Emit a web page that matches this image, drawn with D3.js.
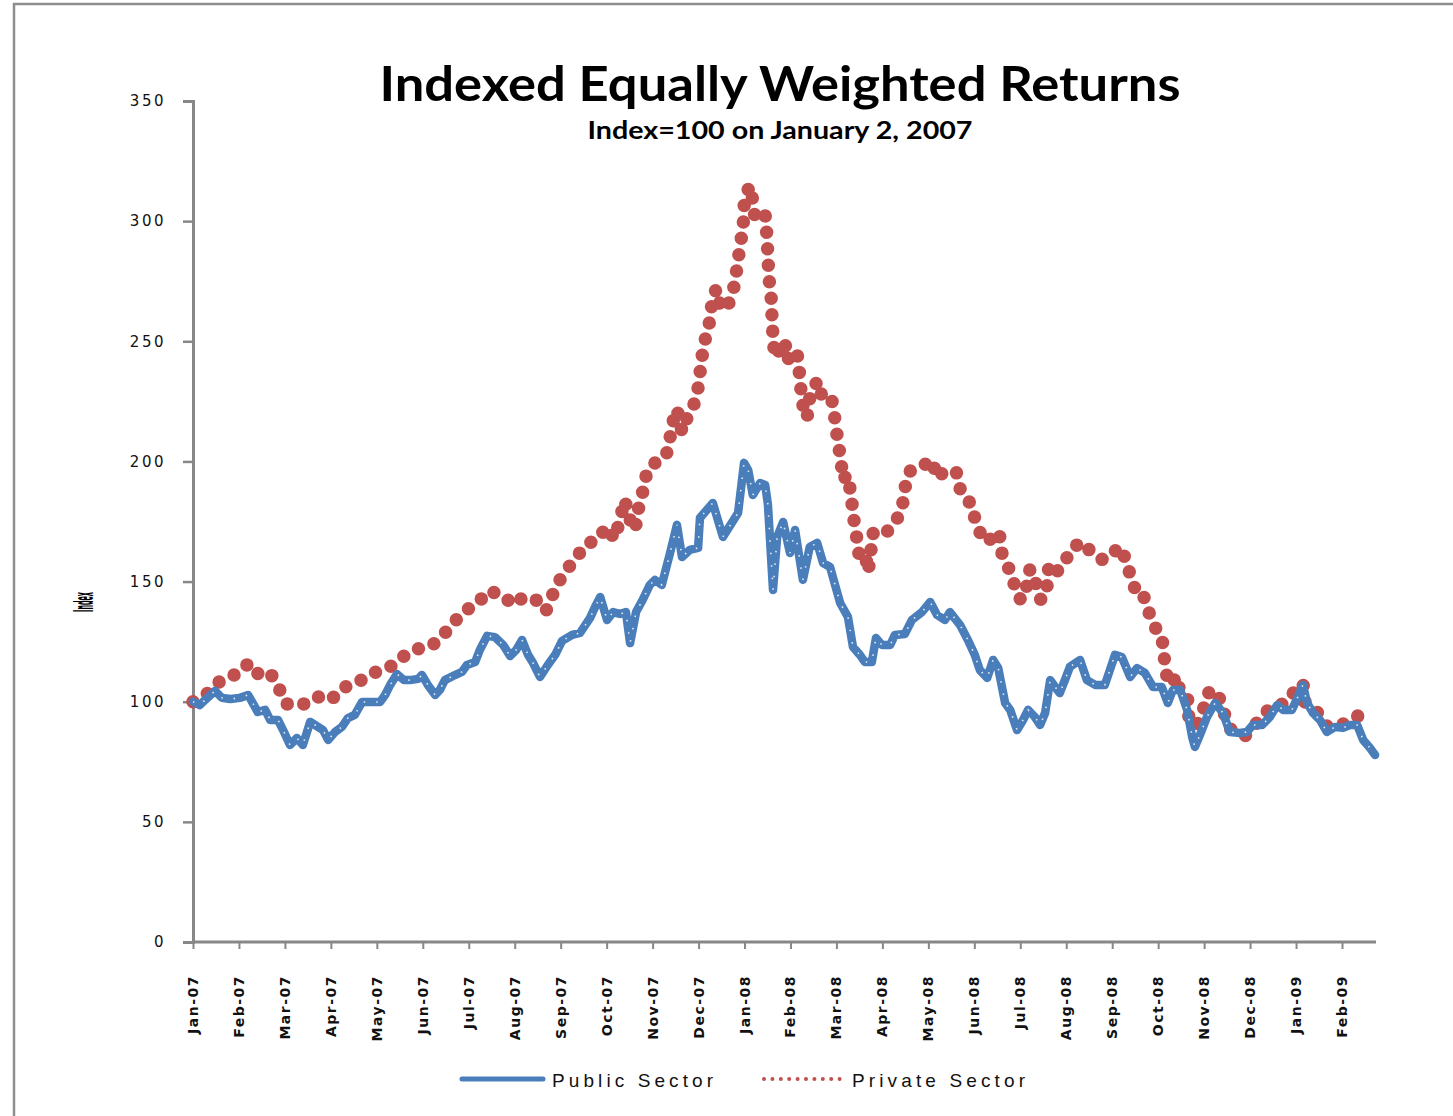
<!DOCTYPE html>
<html><head><meta charset="utf-8">
<script src="https://cdn.jsdelivr.net/npm/d3@7"></script>
<style>body{margin:0;background:#fff}svg{display:block}</style>
</head><body>
<svg id="c" width="1453" height="1116"></svg>
<script>
// month labels (category ticks, month index 0 = Jan-07)
const monthLabels = ["Jan-07","Feb-07","Mar-07","Apr-07","May-07","Jun-07","Jul-07","Aug-07","Sep-07","Oct-07","Nov-07","Dec-07",
  "Jan-08","Feb-08","Mar-08","Apr-08","May-08","Jun-08","Jul-08","Aug-08","Sep-08","Oct-08","Nov-08","Dec-08","Jan-09","Feb-09"];
const yTicks = [0,50,100,150,200,250,300,350];

// Public sector: time in months since Jan 2 2007, index value
const publicT = [0,0.15,0.26,0.48,0.63,0.81,1.02,1.20,1.31,1.41,1.57,1.68,1.85,1.96,2.11,2.26,2.39,2.55,2.72,2.83,2.94,3.09,3.24,3.37,3.52,3.68,3.89,4.07,4.18,4.29,4.44,4.59,4.72,4.90,4.98,5.11,5.27,5.37,5.48,5.70,5.85,5.96,6.14,6.24,6.40,6.57,6.75,6.90,7.03,7.16,7.29,7.40,7.55,7.72,7.88,8.03,8.25,8.42,8.64,8.77,8.86,9.01,9.14,9.29,9.42,9.51,9.64,9.77,9.94,10.05,10.20,10.38,10.53,10.64,10.81,10.99,11.03,11.31,11.53,11.79,11.86,11.99,12.08,12.18,12.34,12.45,12.51,12.62,12.71,12.84,12.99,13.10,13.27,13.42,13.58,13.71,13.86,14.08,14.25,14.36,14.51,14.62,14.77,14.86,14.99,15.17,15.27,15.49,15.64,15.86,16.04,16.19,16.36,16.47,16.69,16.86,17.01,17.12,17.28,17.41,17.52,17.67,17.78,17.93,18.06,18.17,18.32,18.43,18.54,18.65,18.76,18.86,18.97,19.08,19.30,19.45,19.63,19.84,19.95,20.06,20.21,20.39,20.54,20.71,20.89,21.08,21.21,21.32,21.48,21.63,21.74,21.80,21.91,22.06,22.24,22.41,22.56,22.78,22.93,23.06,23.26,23.43,23.59,23.72,23.91,24.04,24.15,24.24,24.37,24.52,24.67,24.85,25.02,25.17,25.33,25.46,25.61,25.72];
const publicV = [100,98.6,100.7,104.5,101.6,101.1,101.6,102.8,99.1,95.7,96.6,92.4,92.4,88.2,82.0,84.9,82.0,91.6,89.5,88.2,84.1,87.4,89.5,93.2,94.5,99.9,99.9,99.9,102.8,107.0,111.5,109.0,109.0,109.5,111.1,107.0,102.8,104.9,109.0,111.1,112.4,115.3,116.5,121.5,127.4,126.9,123.6,119.0,121.5,125.7,119.5,116.1,110.3,115.3,119.5,125.3,127.8,128.6,134.9,140.3,143.6,134.0,137.3,136.5,137.3,124.4,137.3,141.9,148.6,150.7,148.6,161.9,173.6,160.2,163.2,164.0,176.5,182.7,168.6,176.5,178.6,199.4,196.4,186.0,191.0,190.2,181.9,146.5,168.6,174.8,161.9,171.5,150.7,164.4,166.1,157.7,156.1,141.1,135.3,122.8,119.5,116.5,116.5,126.5,123.6,123.6,127.8,128.2,134.0,137.3,141.5,136.1,134.0,137.3,131.9,125.7,119.5,113.2,109.9,117.4,114.0,99.5,96.6,88.2,92.4,96.6,93.6,90.3,95.3,109.0,106.1,103.6,109.0,114.5,117.4,109.0,107.0,107.0,113.2,119.5,118.6,110.3,114.0,112.0,106.1,106.1,99.5,104.9,104.9,96.6,85.3,81.2,86.2,93.6,99.5,95.3,87.4,87.0,87.4,90.3,90.3,93.6,98.6,96.6,96.6,102.0,107.0,99.5,95.3,92.4,87.4,89.5,89.1,90.3,90.3,84.1,80.7,77.8];

// Private sector
const privateT = [0,0.28,0.57,0.94,1.22,1.44,1.68,1.85,2.02,2.22,2.44,2.72,3.00,3.26,3.66,3.94,4.33,4.59,4.87,5.18,5.37,5.61,5.87,6.18,6.42,6.68,6.85,6.96,7.20,7.40,7.57,7.68,7.85,8.05,8.29,8.55,8.81,8.99,9.18,9.29,9.40,9.46,9.62,9.68,9.79,9.88,10.01,10.25,10.36,10.40,10.53,10.64,10.75,10.90,11.01,11.05,11.12,11.23,11.29,11.38,11.49,11.64,11.77,11.84,11.90,11.97,11.99,12.10,12.18,12.23,12.45,12.49,12.51,12.53,12.58,12.60,12.62,12.66,12.88,12.92,13.14,13.19,13.23,13.29,13.36,13.42,13.58,13.71,13.90,13.97,14.03,14.10,14.14,14.23,14.32,14.36,14.43,14.49,14.62,14.69,14.80,15.01,15.21,15.43,15.47,15.60,15.84,16.08,16.19,16.38,16.62,16.71,16.95,17.04,17.23,17.45,17.54,17.60,17.73,17.86,17.93,18.02,18.15,18.21,18.36,18.45,18.60,18.62,18.82,18.93,19.13,19.34,19.56,19.80,20.00,20.19,20.30,20.43,20.54,20.67,20.78,20.91,21.08,21.13,21.19,21.28,21.41,21.48,21.65,21.67,21.84,22.00,22.08,22.28,22.41,22.56,22.89,23.06,23.32,23.50,23.74,23.96,24.15,24.20,24.48,24.67,25.02,25.35,25.57];
const privateV = [100,102.8,108.2,111.5,116.1,111.1,112.0,106.5,99.1,99.1,99.1,102.0,100.7,105.7,109.0,112.0,114.9,119.0,121.9,123.2,126.1,131.5,137.3,140.7,146.1,144.8,142.3,140.3,143.6,142.8,141.5,137.8,145.7,153.2,158.6,165.7,167.3,172.7,167.7,176.1,184.0,177.7,171.5,179.4,187.7,196.0,198.9,201.4,205.6,213.9,221.8,212.3,218.1,223.9,232.2,240.6,248.9,257.2,265.5,271.8,263.5,264.7,272.6,280.9,289.3,297.6,306.3,314.7,308.8,300.9,302.6,293.4,285.1,276.8,268.0,259.7,251.4,243.5,250.1,242.2,246.0,237.6,229.3,221.0,218.1,226.4,233.5,225.6,225.6,217.3,208.5,200.2,192.3,194.4,186.5,178.1,169.8,161.5,162.3,154.0,170.2,169.4,172.7,179.8,187.7,196.0,197.7,200.6,193.1,196.4,195.2,186.9,181.9,173.6,166.5,168.6,170.6,161.9,156.5,149.4,144.4,142.3,148.6,155.2,148.2,142.3,149.0,157.3,154.4,156.9,164.0,166.5,161.9,159.0,161.9,164.4,158.6,150.3,144.8,144.8,138.2,131.5,127.4,118.6,110.7,107.0,110.7,102.8,100.7,92.4,89.9,97.8,103.6,104.5,96.6,88.7,85.7,89.1,95.3,98.2,99.1,104.1,107.8,99.5,95.3,89.9,90.7,94.1,89.5];

const publicData = publicT.map((t,i)=>({t, v: publicV[i]}));
const privateData = privateT.map((t,i)=>({t, v: privateV[i]}));

const svg = d3.select("#c");
const BLUE = "#4A7EBB", RED = "#C0504D", AXIS = "#878787";

// outer frame
svg.append("path").attr("d","M14,1116 L14,4 L1453,4").attr("fill","none").attr("stroke","#8e8e8e").attr("stroke-width",2.5);

const x = d3.scaleLinear().domain([0,25]).range([193,1342]);
const y = d3.scaleLinear().domain([0,350]).range([942,101]);

// title
svg.append("text").attr("x",780).attr("y",101).attr("text-anchor","middle")
  .attr("font-family","Lato, 'Open Sans', sans-serif").attr("font-weight","bold").attr("font-size",47)
  .attr("textLength",801).attr("lengthAdjust","spacingAndGlyphs").text("Indexed Equally Weighted Returns");
svg.append("text").attr("x",780).attr("y",139).attr("text-anchor","middle")
  .attr("font-family","Lato, 'Open Sans', sans-serif").attr("font-weight","bold").attr("font-size",24)
  .attr("textLength",385).attr("lengthAdjust","spacingAndGlyphs").text("Index=100 on January 2, 2007");

// y axis
const yAxis = d3.axisLeft(y).tickValues(yTicks).tickSize(10).tickPadding(17).tickFormat(d3.format("d"));
const gy = svg.append("g").attr("transform","translate(193,0)").call(yAxis);
gy.select(".domain").attr("stroke",AXIS).attr("stroke-width",3);
gy.selectAll(".tick line").attr("stroke",AXIS).attr("stroke-width",2.5);
gy.selectAll(".tick text").attr("font-family","'DejaVu Sans', sans-serif").attr("font-size",15)
  .attr("letter-spacing",2.5).attr("fill","#111");

// x axis
const xAxis = d3.axisBottom(x).tickValues(d3.range(26)).tickSize(7).tickFormat("");
const gx = svg.append("g").attr("transform","translate(0,942)").call(xAxis);
gx.select(".domain").attr("stroke",AXIS).attr("stroke-width",3).attr("d","M193,0H1376");
gx.selectAll(".tick line").attr("stroke",AXIS).attr("stroke-width",2);
svg.append("g").selectAll("text").data(monthLabels).join("text")
  .attr("transform",(d,i)=>`translate(${x(i)+5},975) rotate(-90)`)
  .attr("text-anchor","end").attr("font-family","'DejaVu Sans', sans-serif").attr("font-size",14)
  .attr("font-weight","bold").attr("letter-spacing",1.5).attr("fill","#111").text(d=>d);

// y-axis title
svg.append("text").attr("transform","translate(93,612) rotate(-90)")
  .attr("font-family","'DejaVu Sans', sans-serif").attr("font-weight","bold").attr("font-size",26)
  .attr("textLength",20).attr("lengthAdjust","spacingAndGlyphs").text("Index");

const line = d3.line().x(d=>x(d.t)).y(d=>y(d.v));

// private sector (dotted)
svg.append("path").datum(privateData).attr("d",line).attr("fill","none")
  .attr("stroke",RED).attr("stroke-width",13.5).attr("stroke-linecap","round")
  .attr("stroke-linejoin","round").attr("stroke-dasharray","0,16.5");

// public sector
svg.append("path").datum(publicData).attr("d",line).attr("fill","none")
  .attr("stroke",BLUE).attr("stroke-width",8.5).attr("stroke-linejoin","round").attr("stroke-linecap","round");
svg.append("path").datum(publicData).attr("d",line).attr("fill","none")
  .attr("stroke","#fff").attr("stroke-width",1.6).attr("stroke-dasharray","1.5,11").attr("opacity",0.85);

// legend
const lg = svg.append("g");
lg.append("line").attr("x1",462).attr("x2",543).attr("y1",1079).attr("y2",1079)
  .attr("stroke",BLUE).attr("stroke-width",5).attr("stroke-linecap","round");
lg.append("text").attr("x",552).attr("y",1087).attr("font-family","'Liberation Sans', Arial, sans-serif")
  .attr("font-size",19).attr("textLength",161).attr("lengthAdjust","spacing").attr("fill","#111").text("Public Sector");
lg.append("line").attr("x1",764).attr("x2",840).attr("y1",1079).attr("y2",1079)
  .attr("stroke",RED).attr("stroke-width",4).attr("stroke-linecap","round").attr("stroke-dasharray","0,8.4");
lg.append("text").attr("x",852).attr("y",1087).attr("font-family","'Liberation Sans', Arial, sans-serif")
  .attr("font-size",19).attr("textLength",173).attr("lengthAdjust","spacing").attr("fill","#111").text("Private Sector");
</script>
</body></html>
